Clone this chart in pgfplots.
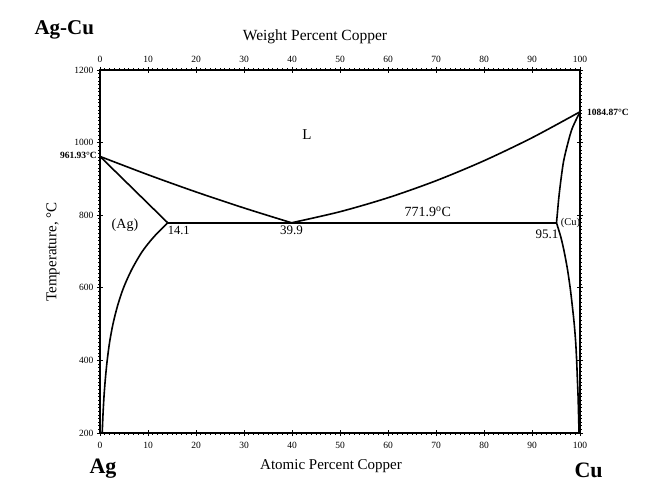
\documentclass[border=0pt]{standalone}
\usepackage{fontspec}
\setmainfont{Liberation Serif}
\usepackage{pgfplots}
\pgfplotsset{compat=1.18}
\begin{document}
\begin{tikzpicture}[x=1pt,y=1pt]
\path[use as bounding box] (-100,-62) rectangle (558,433);
\pgfplotsset{
  common/.style={
    at={(0,0)}, anchor=south west,
    scale only axis, width=480pt, height=363pt,
    xmin=0, xmax=100, ymin=200, ymax=1200,
    xtick={0,10,...,100},
    /pgf/number format/assume math mode=true,
    /pgf/number format/1000 sep={},
    tick label style={font=\fontsize{9.5}{10}\selectfont},
  },
  phase/.style={black, line width=1.6pt, smooth, line join=round},
}
\begin{axis}[
  common,
  ytick={200,400,...,1200},
  minor x tick num=9, minor y tick num=19,
  tick align=center,
  major tick length=6pt, minor tick length=3pt,
  every major tick/.style={black, line width=0.9pt},
  every minor tick/.style={black, line width=0.7pt},
  axis line style={line width=1.4pt},
  xticklabel pos=lower, yticklabel pos=left,
  xticklabel style={yshift=-3pt},
  clip=false,
]
% Ag liquidus
\addplot[phase] coordinates {(0,961.93) (10,911.5) (20,864.1) (30,819.9) (39.9,779.1)};
% Ag solidus
\addplot[phase] coordinates {(0,961.93) (14.1,779.1)};
% Ag solvus
\addplot[phase] coordinates {(14.1,779.1) (11.2,740) (8.8,700) (6.6,650) (4.9,600) (3.65,550) (2.7,500) (2.0,450) (1.5,400) (1.12,350) (0.83,300) (0.62,250) (0.46,200)};
% eutectic
\addplot[black, line width=1.6pt] coordinates {(14.1,779.1) (95.1,779.1)};
% Cu liquidus
\addplot[phase] coordinates {(39.9,779.1) (50,809.6) (60,848.1) (70,894.9) (80,950) (90,1013.3) (100,1084.87)};
% Cu solidus
\addplot[phase] coordinates {(100,1084.87) (98.4,1040) (97.5,1000) (96.6,950) (96.05,900) (95.6,850) (95.25,800) (95.1,779.1)};
% Cu solvus
\addplot[phase] coordinates {(95.1,779.1) (96.0,740) (96.7,700) (97.4,650) (97.95,600) (98.4,550) (98.8,500) (99.1,450) (99.3,400) (99.45,350) (99.6,300) (99.7,250) (99.8,200)};

\node[font=\fontsize{15}{16}\selectfont] at (axis cs:43.1,1021) {L};
\node[font=\fontsize{14}{15}\selectfont] at (axis cs:68.3,810) {771.9\textsuperscript{o}C};
\node[font=\fontsize{14}{15}\selectfont] at (axis cs:5.2,773) {(Ag)};
\node[font=\fontsize{12.5}{14}\selectfont] at (axis cs:16.4,759) {14.1};
\node[font=\fontsize{13}{14}\selectfont] at (axis cs:39.9,759) {39.9};
\node[font=\fontsize{13}{14}\selectfont] at (axis cs:93.1,748) {95.1};
\node[font=\fontsize{10.5}{12}\selectfont] at (axis cs:98.0,778) {(Cu)};
\end{axis}
\begin{axis}[
  common,
  axis x line*=top, axis y line=none,
  axis line style={draw=none},
  major tick length=0pt,
  xticklabel pos=upper,
  xticklabel style={yshift=4pt},
]
\addplot[draw=none] coordinates {(0,200) (100,1200)};
\end{axis}
\node[anchor=base west, font=\bfseries\fontsize{21}{22}\selectfont] at (-69,398) {Ag-Cu};
\node[font=\fontsize{15.5}{17}\selectfont] at (215,396) {Weight Percent Copper};
\node[font=\fontsize{15}{17}\selectfont] at (231,-33) {Atomic Percent Copper};
\node[anchor=base west, font=\bfseries\fontsize{22}{24}\selectfont] at (-14,-40) {Ag};
\node[anchor=base west, font=\bfseries\fontsize{22}{24}\selectfont] at (471,-44) {Cu};
\node[rotate=90, font=\fontsize{15}{17}\selectfont] at (-47,181) {Temperature, °C};
\node[anchor=east, inner sep=1pt, font=\bfseries\fontsize{9.5}{11}\selectfont] at (-2,278) {961.93°C};
\node[anchor=west, inner sep=1pt, font=\bfseries\fontsize{9.5}{11}\selectfont] at (486,321) {1084.87°C};
\end{tikzpicture}
\end{document}
